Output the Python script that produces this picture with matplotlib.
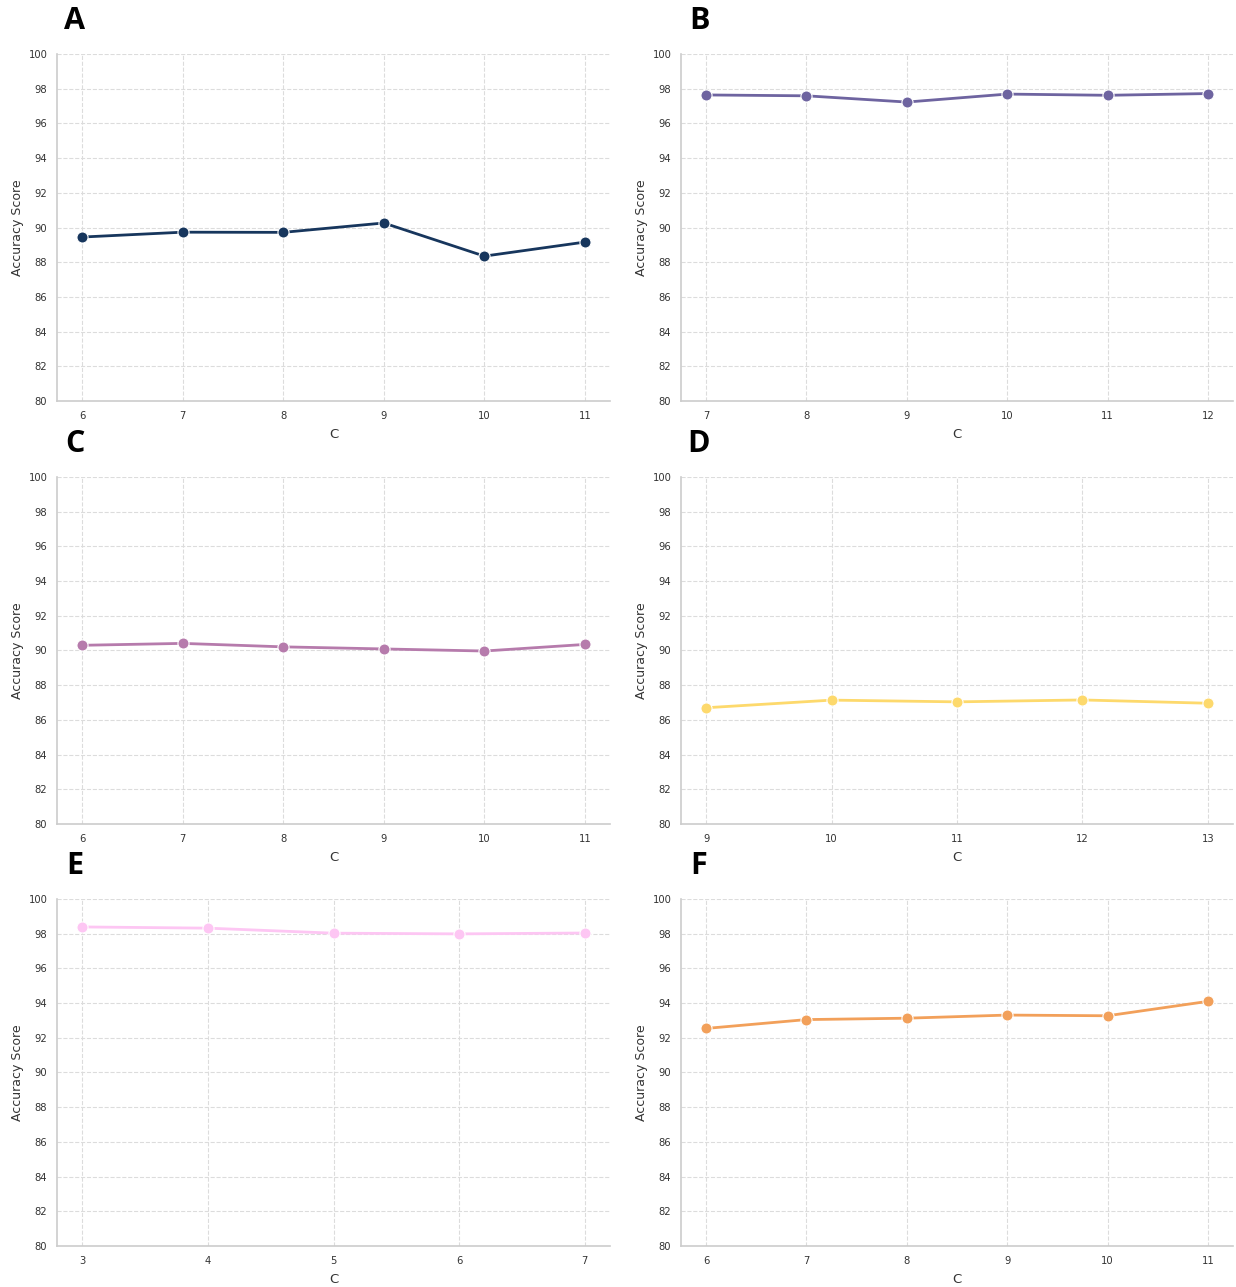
import matplotlib
matplotlib.use("Agg")
import matplotlib.pyplot as plt
import numpy as np

# C values and accuracy scores for each panel
c_a = [6, 7, 8, 9, 10, 11]
acc_a = [89.45, 89.73, 89.72, 90.26, 88.35, 89.16]

c_b = [7, 8, 9, 10, 11, 12]
acc_b = [97.64, 97.59, 97.23, 97.69, 97.62, 97.72]

c_c = [6, 7, 8, 9, 10, 11]
acc_c = [90.30, 90.41, 90.21, 90.09, 89.97, 90.35]

c_d = [9, 10, 11, 12, 13]
acc_d = [86.70, 87.14, 87.04, 87.15, 86.96]

c_e = [3, 4, 5, 6, 7]
acc_e = [98.39, 98.32, 98.03, 97.99, 98.04]

c_f = [6, 7, 8, 9, 10, 11]
acc_f = [92.54, 93.05, 93.13, 93.31, 93.27, 94.10]

panel_letters = ["A", "B", "C", "D", "E", "F"]
panel_colors = ["#17365d", "#6e64a0", "#b67bac", "#fdd96c", "#fdc6f3", "#f2a05a"]


def main():
    plt.rcParams['font.family'] = ['DejaVu Sans']

    fig = plt.figure(figsize=(12.36, 12.87), dpi=100)
    W, H = 1236.0, 1287.0

    # axes boxes in pixels: left, top, right, bottom
    lefts = [57, 681]
    rights = [610, 1233]
    rows = [(54, 401), (477, 824), (899, 1246)]

    data = [(c_a, acc_a), (c_b, acc_b), (c_c, acc_c),
            (c_d, acc_d), (c_e, acc_e), (c_f, acc_f)]

    for i in range(6):
        r, col = divmod(i, 2)
        top, bot = rows[r]
        l, rr = lefts[col], rights[col]
        ax = fig.add_axes([l / W, 1 - bot / H, (rr - l) / W, (bot - top) / H])

        x, y = data[i]
        ax.plot(x, y, color=panel_colors[i], linewidth=2.0, marker='o',
                markersize=8, markeredgecolor='white', markeredgewidth=0.8, zorder=3)

        ax.set_ylim(80, 100)
        ax.set_yticks(np.arange(80, 101, 2))
        ax.set_xticks(x)
        ax.margins(x=0.05)

        ax.grid(True, linestyle='--', color='#dcdcdc', linewidth=0.8)
        ax.set_axisbelow(True)
        for s in ['top', 'right']:
            ax.spines[s].set_visible(False)
        for s in ['left', 'bottom']:
            ax.spines[s].set_color('#cccccc')
            ax.spines[s].set_linewidth(1.2)
        ax.tick_params(axis='both', length=0, labelsize=8, labelcolor='#333333', pad=7)
        for lab in ax.get_xticklabels() + ax.get_yticklabels():
            lab.set_fontstretch('condensed')

        ax.set_xlabel('C', fontsize=9.5, color='#333333', labelpad=5)
        ax.set_ylabel('Accuracy Score', fontsize=9, color='#333333', labelpad=3)

        # panel letter
        fig.text((l + 18) / W, 1 - (top - 33) / H, panel_letters[i],
                 fontsize=22, fontweight='bold', family=['Open Sans', 'DejaVu Sans'],
                 ha='center', va='center', color='black')

    fig.savefig('out.png', dpi=100, facecolor='white')


if __name__ == '__main__':
    main()
